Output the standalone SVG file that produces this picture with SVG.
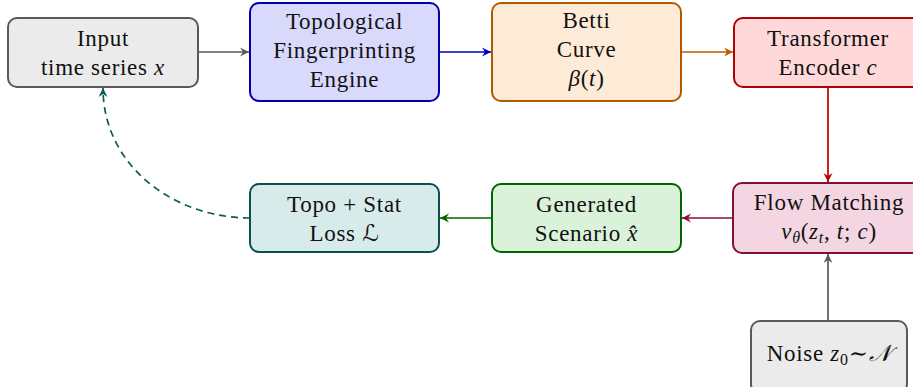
<svg xmlns="http://www.w3.org/2000/svg" width="913" height="387" viewBox="0 0 913 387">
<style>
text{font-family:"Liberation Serif","DejaVu Serif",serif;font-size:23px;letter-spacing:0.7px;fill:#111;text-anchor:middle}
.m{font-style:italic}
.box{stroke-width:2}
.c{fill:none;stroke-width:1.7}
</style>
<defs>
<marker id="aGray" markerWidth="12" markerHeight="12" refX="0" refY="0" viewBox="-10 -6 12 12" orient="auto" markerUnits="userSpaceOnUse"><path d="M0,0 L-9,-4.5 L-6,0 L-9,4.5 Z" fill="#5a5a5a"/></marker>
<marker id="aBlue" markerWidth="12" markerHeight="12" refX="0" refY="0" viewBox="-10 -6 12 12" orient="auto" markerUnits="userSpaceOnUse"><path d="M0,0 L-9,-4.5 L-6,0 L-9,4.5 Z" fill="#0000c0"/></marker>
<marker id="aOrange" markerWidth="12" markerHeight="12" refX="0" refY="0" viewBox="-10 -6 12 12" orient="auto" markerUnits="userSpaceOnUse"><path d="M0,0 L-9,-4.5 L-6,0 L-9,4.5 Z" fill="#b85c00"/></marker>
<marker id="aRed" markerWidth="12" markerHeight="12" refX="0" refY="0" viewBox="-10 -6 12 12" orient="auto" markerUnits="userSpaceOnUse"><path d="M0,0 L-9,-4.5 L-6,0 L-9,4.5 Z" fill="#c00000"/></marker>
<marker id="aMaroon" markerWidth="12" markerHeight="12" refX="0" refY="0" viewBox="-10 -6 12 12" orient="auto" markerUnits="userSpaceOnUse"><path d="M0,0 L-9,-4.5 L-6,0 L-9,4.5 Z" fill="#8c0d3c"/></marker>
<marker id="aGreen" markerWidth="12" markerHeight="12" refX="0" refY="0" viewBox="-10 -6 12 12" orient="auto" markerUnits="userSpaceOnUse"><path d="M0,0 L-9,-4.5 L-6,0 L-9,4.5 Z" fill="#006400"/></marker>
<marker id="aTeal" markerWidth="12" markerHeight="12" refX="0" refY="0" viewBox="-10 -6 12 12" orient="auto" markerUnits="userSpaceOnUse"><path d="M0,0 L-9,-4.5 L-6,0 L-9,4.5 Z" fill="#0b5c55"/></marker>
</defs>

<g id="connectors">
<path class="c" d="M198,52 H249" stroke="#5a5a5a" marker-end="url(#aGray)"/>
<path class="c" d="M439,52 H491" stroke="#0000c0" marker-end="url(#aBlue)"/>
<path class="c" d="M681,52 H733" stroke="#b85c00" marker-end="url(#aOrange)"/>
<path class="c" d="M828,87 V182" stroke="#c00000" marker-end="url(#aRed)"/>
<path class="c" d="M733,218 H682" stroke="#8c0d3c" marker-end="url(#aMaroon)"/>
<path class="c" d="M492,218 H440" stroke="#006400" marker-end="url(#aGreen)"/>
<path class="c" d="M828,321 V254" stroke="#5a5a5a" marker-end="url(#aGray)"/>
<path class="c" d="M250,218 C173,218 103,165 103,88" stroke="#0b5c55" stroke-dasharray="7,5" marker-end="url(#aTeal)"/>
</g>

<g id="input">
<rect class="box" x="8" y="18" width="190" height="69" rx="9" fill="#ebebeb" stroke="#595959"/>
<text x="103" y="46">Input</text>
<text x="103" y="75">time series <tspan class="m">x</tspan></text>
</g>

<g id="topological">
<rect class="box" x="250" y="3" width="189" height="98" rx="9" fill="#d9d9fc" stroke="#0000a8"/>
<text x="344.5" y="29">Topological</text>
<text x="344.5" y="58">Fingerprinting</text>
<text x="344.5" y="87">Engine</text>
</g>

<g id="betti">
<rect class="box" x="492" y="3" width="189" height="98" rx="9" fill="#fdebd8" stroke="#b05a00"/>
<text x="586.5" y="28">Betti</text>
<text x="586.5" y="57">Curve</text>
<text x="586.5" y="86"><tspan class="m">β</tspan>(<tspan class="m">t</tspan>)</text>
</g>

<g id="transformer">
<rect class="box" x="734" y="18" width="188" height="69" rx="9" fill="#ffd9d9" stroke="#b00000"/>
<text x="828" y="46">Transformer</text>
<text x="828" y="75">Encoder <tspan class="m">c</tspan></text>
</g>

<g id="flow">
<rect class="box" x="733" y="183" width="190" height="70" rx="9" fill="#f3d6e1" stroke="#7f1038"/>
<text x="829" y="210">Flow Matching</text>
<text x="829" y="239"><tspan class="m">v</tspan><tspan class="m" font-size="16" dy="4">θ</tspan><tspan dy="-4">(</tspan><tspan class="m">z</tspan><tspan class="m" font-size="16" dy="4">t</tspan><tspan dy="-4">, </tspan><tspan class="m">t</tspan>; <tspan class="m">c</tspan>)</text>
</g>

<g id="generated">
<rect class="box" x="492" y="184" width="189" height="68" rx="9" fill="#d9f2d9" stroke="#006400"/>
<text x="586.5" y="212">Generated</text>
<text x="586.5" y="241">Scenario <tspan class="m">x̂</tspan></text>
</g>

<g id="loss">
<rect class="box" x="250" y="184" width="189" height="68" rx="9" fill="#d8ebeb" stroke="#0b5050"/>
<text x="344.5" y="212">Topo + Stat</text>
<text x="344.5" y="241">Loss <tspan font-family="DejaVu Serif,DejaVu Sans,serif" font-style="italic">ℒ</tspan></text>
</g>

<g id="noise">
<rect class="box" x="751" y="321" width="156" height="72" rx="9" fill="#ebebeb" stroke="#595959"/>
<text x="829" y="361">Noise <tspan class="m">z</tspan><tspan font-size="16" dy="4">0</tspan><tspan dy="-4">∼</tspan><tspan font-family="DejaVu Serif,DejaVu Sans,serif" font-style="italic">𝒩</tspan></text>
</g>
</svg>
